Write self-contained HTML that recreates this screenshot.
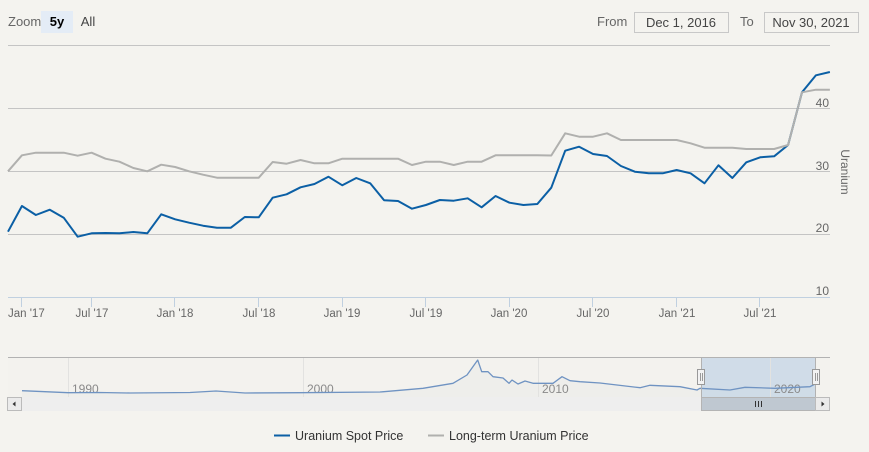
<!DOCTYPE html>
<html><head><meta charset="utf-8"><style>
html,body{margin:0;padding:0;background:#f4f3ef;}
svg{display:block;font-family:"Liberation Sans",sans-serif;}
</style></head><body>
<svg width="869" height="452" viewBox="0 0 869 452" xmlns="http://www.w3.org/2000/svg">
<rect x="0" y="0" width="869" height="452" fill="#f4f3ef"/>
<text x="8" y="26" font-size="13" fill="#666">Zoom</text>
<rect x="41" y="11" width="32" height="22" fill="#e4ecf6"/>
<text x="57" y="26" font-size="13" fill="#000" text-anchor="middle" font-weight="bold">5y</text>
<text x="88" y="26" font-size="13" fill="#444" text-anchor="middle">All</text>
<text x="597" y="26" font-size="13" fill="#666">From</text>
<rect x="634.5" y="12.5" width="94" height="20" fill="#f4f3ef" stroke="#c8c8c8"/>
<text x="681" y="27" font-size="13" fill="#444" text-anchor="middle">Dec 1, 2016</text>
<text x="740" y="26" font-size="13" fill="#666">To</text>
<rect x="764.5" y="12.5" width="94" height="20" fill="#f4f3ef" stroke="#c8c8c8"/>
<text x="811" y="27" font-size="13" fill="#444" text-anchor="middle">Nov 30, 2021</text>
<g stroke="#c4c4c4" stroke-width="1">
<line x1="8" y1="45.5" x2="830" y2="45.5"/>
<line x1="8" y1="108.5" x2="830" y2="108.5"/>
<line x1="8" y1="171.5" x2="830" y2="171.5"/>
<line x1="8" y1="234.5" x2="830" y2="234.5"/>
</g>
<line x1="8" y1="297.5" x2="830" y2="297.5" stroke="#c0d0e0"/>
<g stroke="#c0d0e0">
<line x1="21.5" y1="297" x2="21.5" y2="307"/>
<line x1="91.5" y1="297" x2="91.5" y2="307"/>
<line x1="174.5" y1="297" x2="174.5" y2="307"/>
<line x1="258.5" y1="297" x2="258.5" y2="307"/>
<line x1="342.5" y1="297" x2="342.5" y2="307"/>
<line x1="425.5" y1="297" x2="425.5" y2="307"/>
<line x1="509.5" y1="297" x2="509.5" y2="307"/>
<line x1="592.5" y1="297" x2="592.5" y2="307"/>
<line x1="676.5" y1="297" x2="676.5" y2="307"/>
<line x1="759.5" y1="297" x2="759.5" y2="307"/>
</g>
<g font-size="11.5" fill="#666" text-anchor="middle">
<text x="8" y="317" text-anchor="start">Jan '17</text>
<text x="92" y="317">Jul '17</text>
<text x="175" y="317">Jan '18</text>
<text x="259" y="317">Jul '18</text>
<text x="342" y="317">Jan '19</text>
<text x="426" y="317">Jul '19</text>
<text x="509" y="317">Jan '20</text>
<text x="593" y="317">Jul '20</text>
<text x="677" y="317">Jan '21</text>
<text x="760" y="317">Jul '21</text>
</g>
<g font-size="12" fill="#666" text-anchor="end">
<text x="829" y="107">40</text>
<text x="829" y="170">30</text>
<text x="829" y="232">20</text>
<text x="829" y="295">10</text>
</g>
<text transform="translate(841,172) rotate(90)" font-size="12" fill="#666" text-anchor="middle">Uranium</text>
<polyline fill="none" stroke="#0b5fa5" stroke-width="2" stroke-linejoin="round" points="8,231.7 21.93,206 35.86,215 49.79,209.7 63.72,217.7 77.65,236.7 91.58,233.3 105.51,233 119.44,233.3 133.37,232 147.3,233.3 161.23,214.3 175.16,219.3 189.09,222.7 203.02,225.7 216.95,227.7 230.88,227.7 244.81,217 258.74,217.3 272.67,197.7 286.6,194.3 300.53,187.3 314.46,184 328.39,176.7 342.32,185.3 356.25,178 370.18,183.3 384.11,200.3 398.04,201 411.97,208.7 425.9,205 439.83,200 453.76,200.7 467.69,198.3 481.62,207.3 495.55,196 509.48,202.7 523.41,205 537.34,204 551.27,187.7 565.2,150.7 579.13,146.7 593.06,154 606.99,156 620.92,166 634.85,171.7 648.78,173.3 662.71,173.3 676.64,170 690.57,173.3 704.5,183.3 718.43,165.3 732.36,178 746.29,162.3 760.22,157.3 774.15,156.3 788.08,145 802.01,92.3 815.94,75.3 829.87,72"/>
<polyline fill="none" stroke="#b0b0ae" stroke-width="2" stroke-linejoin="round" points="8,171.3 21.93,155.3 35.86,152.7 49.79,152.7 63.72,152.7 77.65,155.7 91.58,152.7 105.51,158.7 119.44,161.7 133.37,168 147.3,171.3 161.23,164.7 175.16,167 189.09,171.3 203.02,174.7 216.95,177.7 230.88,177.7 244.81,177.7 258.74,177.7 272.67,162 286.6,163.7 300.53,160 314.46,163.3 328.39,163.3 342.32,158.7 356.25,158.7 370.18,158.7 384.11,158.7 398.04,158.7 411.97,165 425.9,161.7 439.83,161.7 453.76,165 467.69,161.7 481.62,161.7 495.55,155.3 509.48,155.3 523.41,155.3 537.34,155.3 551.27,155.5 565.2,133.3 579.13,136.7 593.06,136.7 606.99,133.3 620.92,140 634.85,140 648.78,140 662.71,140 676.64,140 690.57,143.3 704.5,147.7 718.43,147.7 732.36,147.7 746.29,149 760.22,149 774.15,149 788.08,145 802.01,92.3 815.94,89.7 829.87,89.7"/>
<rect x="8" y="357" width="822" height="40" fill="#f3f2ee"/>
<path d="M22,390.7 L68,392.7 L100,392.5 L130,393 L190,392.5 L216,391 L245,393 L300,392.7 L380,392 L423,388.3 L453,383.3 L467,375 L472,368 L477.7,360 L481.7,371.7 L488,371.7 L493,376.7 L503,378 L509,383.3 L512,380 L518,384 L525,381 L533,383.3 L553,383.3 L562,376.7 L570,380.7 L580,381.7 L600,383 L640,387.7 L650,385.3 L680,386.7 L697,390 L700,388.3 L730,390 L745,387.3 L775,388.3 L810,386.7 L815,384 L815,397 L22,397 Z" fill="#eeeeeb"/>
<rect x="701" y="357" width="114" height="40" fill="#c9d8e6" fill-opacity="0.85"/>
<g stroke="#e2e2e0" stroke-width="1">
<line x1="68.5" y1="357" x2="68.5" y2="397"/>
<line x1="303.5" y1="357" x2="303.5" y2="397"/>
<line x1="538.5" y1="357" x2="538.5" y2="397"/>
<line x1="770.5" y1="357" x2="770.5" y2="397"/>
</g>
<g font-size="12" fill="#8a8a8a">
<text x="72" y="393">1990</text>
<text x="307" y="393">2000</text>
<text x="542" y="393">2010</text>
<text x="774" y="393">2020</text>
</g>
<polyline fill="none" stroke="#6f93c2" stroke-width="1.3" stroke-linejoin="round" points="22,390.7 68,392.7 100,392.5 130,393 190,392.5 216,391 245,393 300,392.7 380,392 423,388.3 453,383.3 467,375 472,368 477.7,360 481.7,371.7 488,371.7 493,376.7 503,378 509,383.3 512,380 518,384 525,381 533,383.3 553,383.3 562,376.7 570,380.7 580,381.7 600,383 640,387.7 650,385.3 680,386.7 697,390 700,388.3 730,390 745,387.3 775,388.3 810,386.7 815,384"/>
<line x1="8" y1="357.5" x2="701" y2="357.5" stroke="#b2b2b2"/>
<line x1="815" y1="357.5" x2="830" y2="357.5" stroke="#b2b2b2"/>
<path d="M701.5,397 L701.5,357.5 L815.5,357.5 L815.5,397" fill="none" stroke="#b2b2b2"/>
<rect x="697.5" y="369.5" width="7" height="15" fill="#f2f2f2" stroke="#999"/>
<line x1="700.5" y1="373" x2="700.5" y2="381" stroke="#999"/>
<line x1="702.5" y1="373" x2="702.5" y2="381" stroke="#999"/>
<rect x="812.5" y="369.5" width="7" height="15" fill="#f2f2f2" stroke="#999"/>
<line x1="815.5" y1="373" x2="815.5" y2="381" stroke="#999"/>
<line x1="817.5" y1="373" x2="817.5" y2="381" stroke="#999"/>
<rect x="7" y="397" width="823" height="14" fill="#eeeeee"/>
<rect x="701.5" y="397.5" width="114" height="13" fill="#bfc8d1" stroke="#b4b4b4"/>
<g stroke="#333" stroke-width="1">
<line x1="755.5" y1="401" x2="755.5" y2="407"/>
<line x1="758.5" y1="401" x2="758.5" y2="407"/>
<line x1="761.5" y1="401" x2="761.5" y2="407"/>
</g>
<rect x="7.5" y="397.5" width="14" height="13" fill="#ebebeb" stroke="#bbb"/>
<path d="M12.5,404 L15.5,401.5 L15.5,406.5 Z" fill="#333"/>
<rect x="815.5" y="397.5" width="14" height="13" fill="#ebebeb" stroke="#bbb"/>
<path d="M824.5,404 L821.5,401.5 L821.5,406.5 Z" fill="#333"/>
<line x1="274" y1="435.5" x2="290" y2="435.5" stroke="#0b5fa5" stroke-width="2"/>
<text x="295" y="440" font-size="12.5" fill="#333">Uranium Spot Price</text>
<line x1="428" y1="435.5" x2="444" y2="435.5" stroke="#b0b0ae" stroke-width="2"/>
<text x="449" y="440" font-size="12.5" fill="#333">Long-term Uranium Price</text>
</svg>
</body></html>
